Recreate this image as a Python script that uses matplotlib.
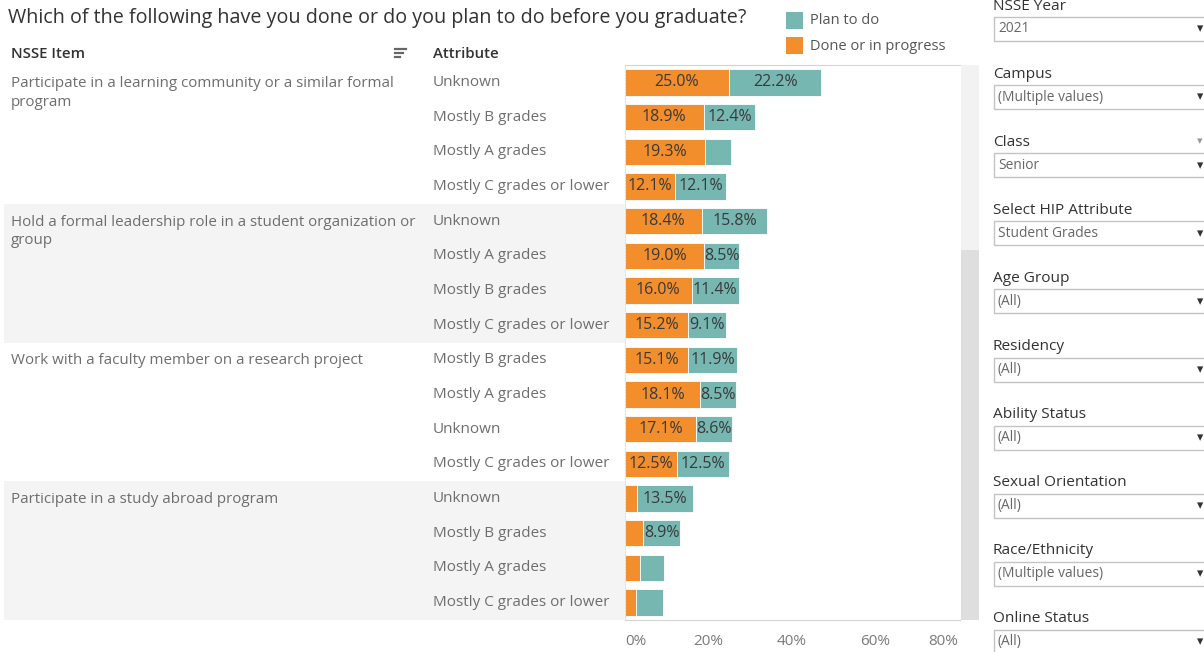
import matplotlib.pyplot as plt
from matplotlib.patches import Rectangle
from matplotlib.lines import Line2D

plt.rcParams['font.family'] = ['Open Sans', 'DejaVu Sans']

# data
items = ["Participate in a learning community or a similar formal\nprogram",
         "Hold a formal leadership role in a student organization or\ngroup",
         "Work with a faculty member on a research project",
         "Participate in a study abroad program"]
attributes = ["Unknown", "Mostly B grades", "Mostly A grades", "Mostly C grades or lower",
              "Unknown", "Mostly A grades", "Mostly B grades", "Mostly C grades or lower",
              "Mostly B grades", "Mostly A grades", "Unknown", "Mostly C grades or lower",
              "Unknown", "Mostly B grades", "Mostly A grades", "Mostly C grades or lower"]
done = [25.0, 18.9, 19.3, 12.1, 18.4, 19.0, 16.0, 15.2,
        15.1, 18.1, 17.1, 12.5, 2.8, 4.4, 3.7, 2.7]
plan = [22.2, 12.4, 6.2, 12.1, 15.8, 8.5, 11.4, 9.1,
        11.9, 8.5, 8.6, 12.5, 13.5, 8.9, 5.7, 6.4]
xticks = [0, 20, 40, 60, 80]
xtick_labels = ["0%", "20%", "40%", "60%", "80%"]

filter_names = ["NSSE Year", "Campus", "Class", "Select HIP Attribute", "Age Group",
                "Residency", "Ability Status", "Sexual Orientation", "Race/Ethnicity",
                "Online Status"]
filter_values = ["2021", "(Multiple values)", "Senior", "Student Grades", "(All)",
                 "(All)", "(All)", "(All)", "(Multiple values)", "(All)"]

orange = '#F28E2B'
teal = '#76B7B2'
W, H = 1204, 652

fig = plt.figure(figsize=(W / 100, H / 100), dpi=100)


def fx(x):
    return x / W


def fy(y):
    return 1 - y / H


# table area
top, bottom = 65, 620
row_h = (bottom - top) / len(done)

# shaded bands for 2nd and 4th items
for g in (1, 3):
    y0 = top + g * 4 * row_h
    fig.patches.append(Rectangle((fx(4), fy(y0 + 4 * row_h)), fx(625 - 4), 4 * row_h / H,
                                 transform=fig.transFigure, facecolor='#f4f4f4',
                                 edgecolor='none', zorder=0))

# scrollbar on the right of the chart
fig.patches.append(Rectangle((fx(961), fy(250)), fx(18), (250 - top) / H,
                             transform=fig.transFigure, facecolor='#f2f2f2', edgecolor='none'))
fig.patches.append(Rectangle((fx(961), fy(bottom)), fx(18), (bottom - 250) / H,
                             transform=fig.transFigure, facecolor='#dedede', edgecolor='none'))

fig.text(fx(8), fy(18), "Which of the following have you done or do you plan to do before you graduate?",
         fontsize=14.2, color='#333333', va='center', ha='left')
fig.text(fx(11), fy(54), "NSSE Item", fontsize=10.8, color='#333333', va='center', fontweight='semibold')
fig.text(fx(433), fy(54), "Attribute", fontsize=10.8, color='#333333', va='center', fontweight='semibold')
# sort icon
for i, ln in enumerate([11, 8, 5]):
    fig.add_artist(Line2D([fx(395), fx(395 + ln)], [fy(49 + i * 4)] * 2, color='#666666', lw=1.6))

for g, item in enumerate(items):
    fig.text(fx(11), fy(top + g * 4 * row_h + 11), item, fontsize=10.9,
             color='#6e6e6e', va='top', ha='left', linespacing=1.32)

for i, att in enumerate(attributes):
    fig.text(fx(433), fy(top + (i + 0.5) * row_h), att, fontsize=10.95,
             color='#6e6e6e', va='center', ha='left')

# legend
fig.patches.append(Rectangle((fx(786), fy(29)), fx(17), 17 / H, transform=fig.transFigure,
                             facecolor=teal, edgecolor='none'))
fig.patches.append(Rectangle((fx(786), fy(54)), fx(17), 17 / H, transform=fig.transFigure,
                             facecolor=orange, edgecolor='none'))
fig.text(fx(810), fy(21), "Plan to do", fontsize=10.5, color='#555555', va='center')
fig.text(fx(810), fy(46), "Done or in progress", fontsize=10.5, color='#555555', va='center')

# bars
ax = fig.add_axes([fx(625), fy(bottom), fx(960 - 625), (bottom - top) / H])
rows = list(range(len(done)))
ax.barh(rows, done, height=0.76, color=orange, edgecolor='white', linewidth=0.6)
ax.barh(rows, plan, left=done, height=0.76, color=teal, edgecolor='white', linewidth=0.6)
for r, d, p in zip(rows, done, plan):
    if d >= 7:
        ax.text(d / 2, r, f"{d:.1f}%", ha='center', va='center', fontsize=11.5, color='#3a3a3a')
    if p >= 7:
        ax.text(d + p / 2, r, f"{p:.1f}%", ha='center', va='center', fontsize=11.5, color='#3a3a3a')
ax.set_xlim(0, 80.5)
ax.set_ylim(len(done) - 0.5, -0.5)
ax.set_yticks([])
ax.set_xticks(xticks)
ax.set_xticklabels(xtick_labels, fontsize=11, color='#7a7a7a')
labels = ax.get_xticklabels()
labels[0].set_ha('left')
labels[-1].set_ha('right')
ax.tick_params(axis='x', length=0, pad=10)
ax.spines['right'].set_visible(False)
ax.spines['top'].set_color('#d4d4d4')
ax.spines['bottom'].set_color('#d4d4d4')
ax.spines['left'].set_color('#dddddd')
ax.spines['left'].set_linestyle(':')
ax.set_facecolor('none')

# filter panel
for k, (name, val) in enumerate(zip(filter_names, filter_values)):
    ly = 6 + k * 68.1
    fig.text(fx(993), fy(ly), name, fontsize=11.1, color='#333333', va='center')
    fig.patches.append(Rectangle((fx(994), fy(ly + 35)), fx(215), 24 / H, transform=fig.transFigure,
                                 facecolor='white', edgecolor='#c4c4c4', linewidth=1))
    fig.text(fx(998), fy(ly + 23), val, fontsize=9.9, color='#666666', va='center')
    fig.text(fx(1197), fy(ly + 23), "▾", fontsize=9, color='#333333', va='center',
             ha='left', family='DejaVu Sans')
    if name == "Class":
        fig.text(fx(1197), fy(ly - 1), "▾", fontsize=8, color='#999999', va='center',
                 ha='left', family='DejaVu Sans')

fig.savefig('out.png', dpi=100)
